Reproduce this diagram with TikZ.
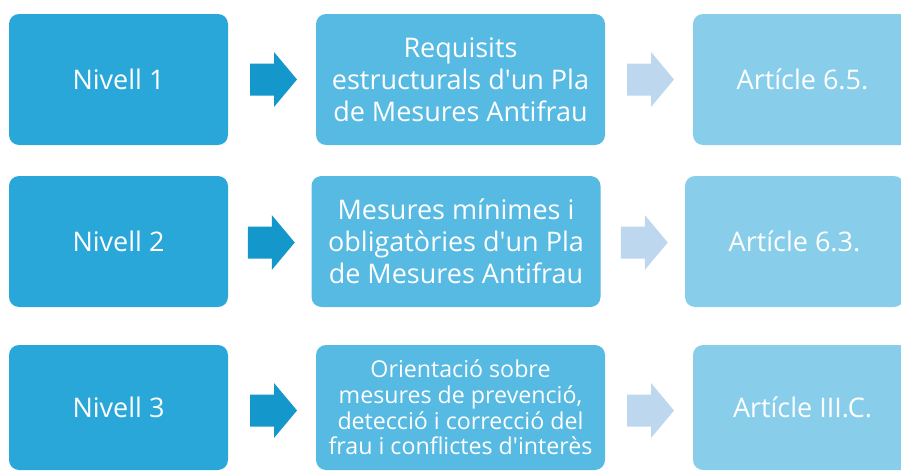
\documentclass[tikz,border=0pt]{standalone}
\usepackage{fontspec}
\setmainfont{Open Sans}
\usetikzlibrary{calc}

\definecolor{nivellblue}{HTML}{2AA7D9}
\definecolor{mesurablue}{HTML}{57BAE3}
\definecolor{articleblue}{HTML}{88CEEA}
\definecolor{arrowdark}{HTML}{1497CB}
\definecolor{arrowpale}{HTML}{BDD7EE}

\begin{document}
\begin{tikzpicture}[x=0.5pt,y=-0.5pt,
		blockarrow/.pic={\fill[pic actions] (-23.5,-16) -- (0.5,-16) -- (0.5,-27.5) -- (23.5,0) -- (0.5,27.5) -- (0.5,16) -- (-23.5,16) -- cycle;}]
		\tikzstyle{every node}+=[inner sep=0pt, text=white, align=center, font=\fontsize{13.5}{16}\selectfont]
		\tikzstyle{nivell}=[fill=nivellblue, rounded corners=5pt, minimum width=109.5pt, minimum height=65.5pt]
		\tikzstyle{mesura}=[fill=mesurablue, rounded corners=5pt, minimum width=144.5pt, minimum height=65.5pt]
		\tikzstyle{article}=[fill=articleblue, rounded corners=5pt, minimum width=109.5pt, minimum height=65.5pt]
		\tikzstyle{lastrow}=[minimum height=62.5pt]
		\useasboundingbox (0,0) rectangle (901,471);
		% row 1
		\node [nivell] (n1) at (118.5,79.5) {Nivell 1};
		\node [mesura] (m1) at (460.5,79.5) {Requisits\\estructurals d\textquotesingle un Pla\\de Mesures Antifrau};
		\node [article] (a1) at (802.5,79.5) {Artícle 6.5.};
		% row 2
		\node [nivell] (n2) at (118.5,241.5) {Nivell 2};
		\node [mesura] (m2) at (456,241.5) {Mesures mínimes i\\obligatòries d\textquotesingle un Pla\\de Mesures Antifrau};
		\node [article] (a2) at (794.5,241.5) {Artícle 6.3.};
		% row 3
		\node [nivell, lastrow] (n3) at (118.5,407.5) {Nivell 3};
		\node [mesura, lastrow, font=\fontsize{11.6}{12.8}\selectfont] (m3) at (460.5,407.5) {Orientació sobre\\mesures de prevenció,\\detecció i correcció del\\frau i conflictes d\textquotesingle interès};
		\node [article, lastrow] (a3) at (802.5,407.5) {Artícle III.C.};
		% arrows
		\foreach \i/\dy in {1/0,2/1,3/3} {
			\coordinate (p\i) at ($(n\i.east)!0.5!(m\i.west)+(1.5,\dy)$);
			\coordinate (q\i) at ($(m\i.east)!0.5!(a\i.west)+(1.5,\dy)$);
			\pic [fill=arrowdark] at (p\i) {blockarrow};
			\pic [fill=arrowpale] at (q\i) {blockarrow};
		}
\end{tikzpicture}
\end{document}
